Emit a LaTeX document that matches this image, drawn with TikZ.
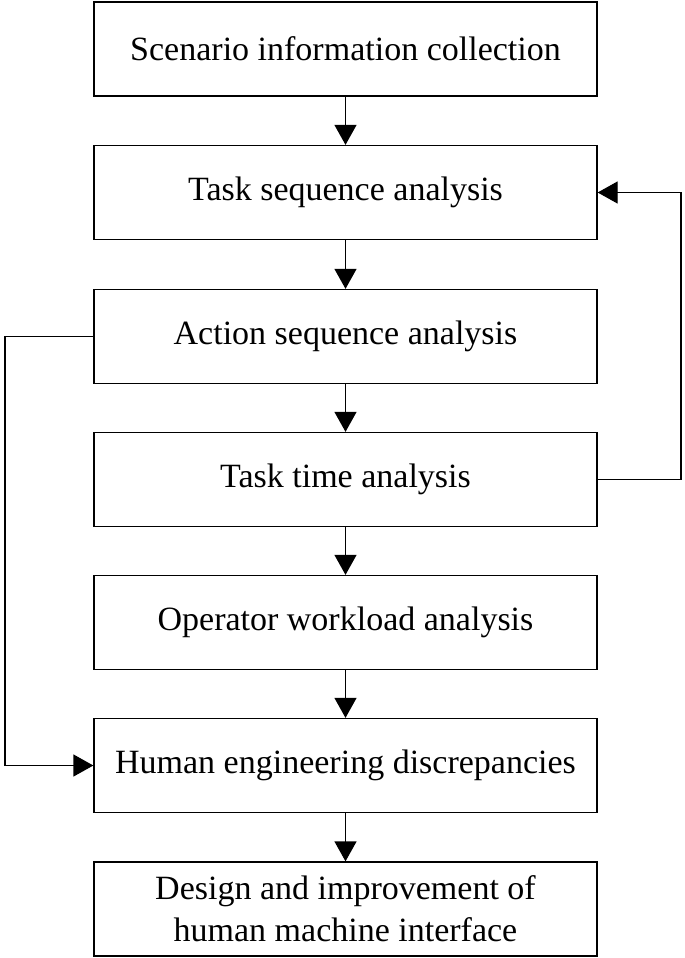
\documentclass[tikz,border=0pt]{standalone}
\usepackage{fontspec}
\setmainfont{Liberation Serif}
\usetikzlibrary{arrows.meta}
\begin{document}
\begin{tikzpicture}[x=1pt,y=-1pt,
  box/.style={draw,line width=1.3pt,minimum width=503pt,minimum height=94pt,align=center,font=\fontsize{34}{42}\selectfont,inner sep=0pt},
  arr/.style={line width=1.3pt,-{Triangle[width=22pt,length=20pt]}}]
\useasboundingbox (0,0) rectangle (685,958);
\node[box] (b1) at (345.5,49) {Scenario information collection};
\node[box] (b2) at (345.5,192.5) {Task sequence analysis};
\node[box] (b3) at (345.5,336.5) {Action sequence analysis};
\node[box] (b4) at (345.5,479.5) {Task time analysis};
\node[box] (b5) at (345.5,622.5) {Operator workload analysis};
\node[box] (b6) at (345.5,765.5) {Human engineering discrepancies};
\node[box] (b7) at (345.5,909) {Design and improvement of\\human machine interface};
\draw[arr] (b1) -- (b2);
\draw[arr] (b2) -- (b3);
\draw[arr] (b3) -- (b4);
\draw[arr] (b4) -- (b5);
\draw[arr] (b5) -- (b6);
\draw[arr] (b6) -- (b7);
\coordinate (l1) at (5,336.5);
\coordinate (l2) at (5,765.5);
\draw[arr] (b3.west) -- (l1) -- (l2) -- (b6.west);
\coordinate (r1) at (681,479.5);
\coordinate (r2) at (681,192.5);
\draw[arr] (b4.east) -- (r1) -- (r2) -- (b2.east);
\end{tikzpicture}
\end{document}
